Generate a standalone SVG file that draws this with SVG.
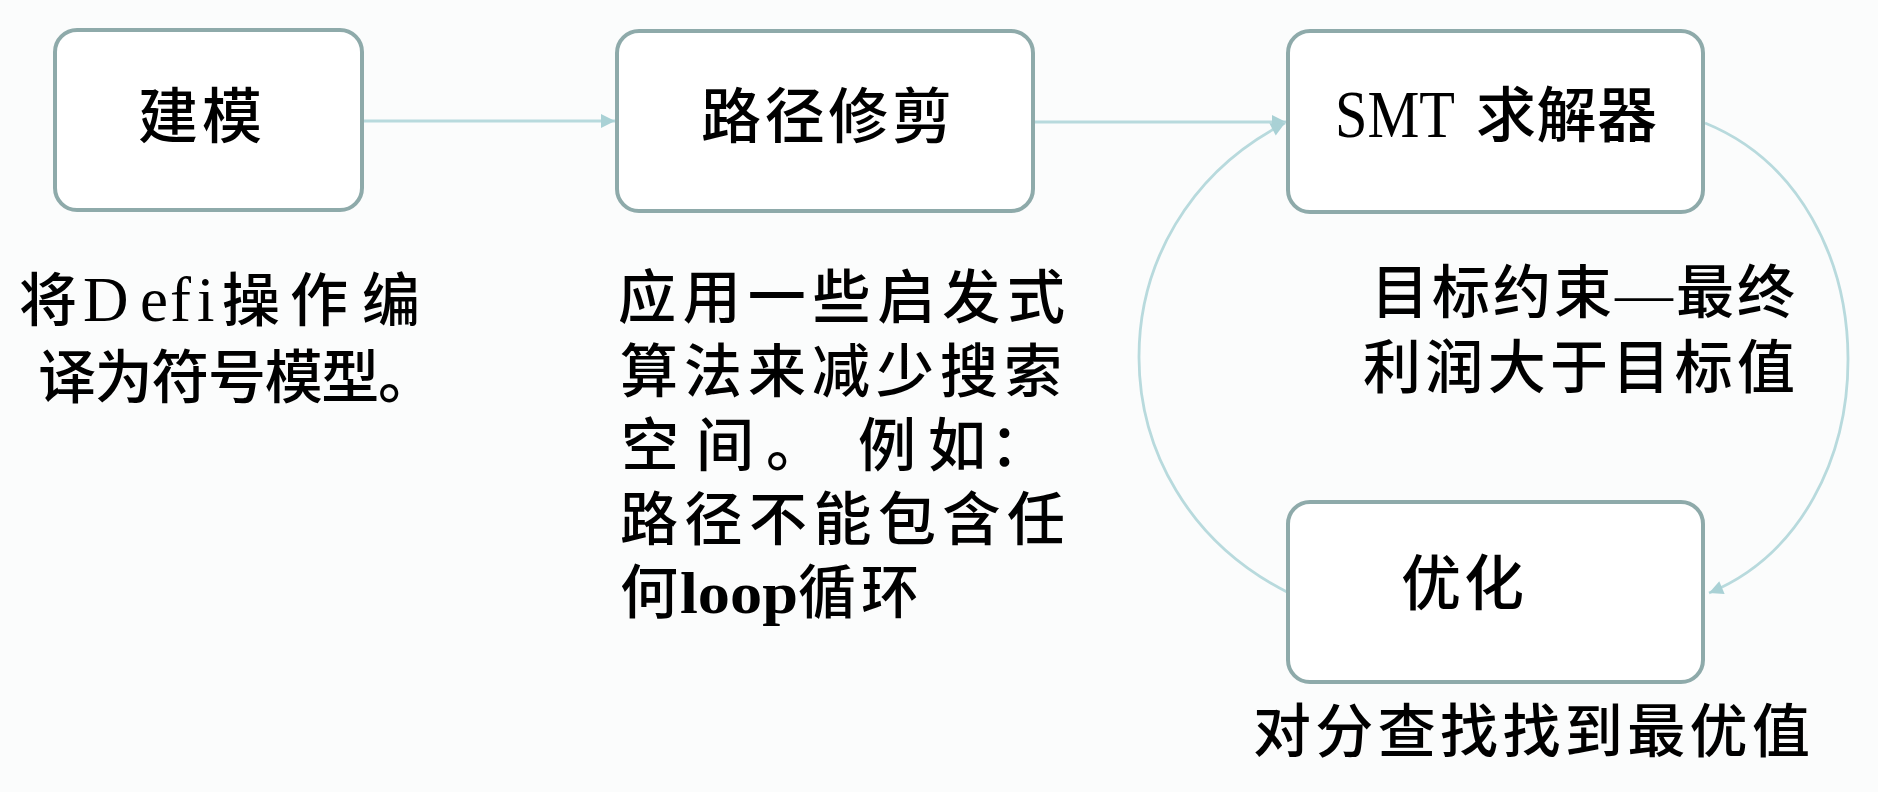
<svg xmlns="http://www.w3.org/2000/svg" width="1878" height="792" viewBox="0 0 1878 792">
  <style>
    .box { fill: #ffffff; stroke: #8eaaaa; stroke-width: 4; }
    .conn { fill: none; stroke: #b8dadd; stroke-width: 2.8; }
    .t { font-family: "Liberation Serif", "Noto Sans CJK SC", serif; fill: #000000; font-weight: 500; }
    .lbl { font-size: 58px; }
    .node { font-size: 60px; }
  </style>
  <defs>
    <marker id="arr" viewBox="0 0 10 10" refX="10" refY="5" markerUnits="userSpaceOnUse" markerWidth="16" markerHeight="14" orient="auto">
      <path d="M0,0 L10,5 L0,10 z" fill="#a9d1d5"/>
    </marker>
  </defs>
  <rect x="0" y="0" width="1878" height="792" fill="#fbfcfc"/>

  <g id="connectors">
    <path class="conn" d="M362,121 L615,121" marker-end="url(#arr)"/>
    <path class="conn" d="M1033,122 L1286,122" marker-end="url(#arr)"/>
    <path class="conn" d="M1705,123 C1895,200 1895,516 1709,593" marker-end="url(#arr)"/>
    <path class="conn" d="M1287,592 C1090,492 1090,223 1285,123" marker-end="url(#arr)"/>
  </g>

  <g id="node-modeling">
    <rect class="box" x="55" y="30" width="307" height="180" rx="22"/>
    <text class="t node" x="138" y="138" textLength="124" lengthAdjust="spacing">建模</text>
  </g>

  <g id="node-pruning">
    <rect class="box" x="617" y="31" width="416" height="180" rx="22"/>
    <text class="t node" x="701" y="138" textLength="251" lengthAdjust="spacing">路径修剪</text>
  </g>

  <g id="node-smt">
    <rect class="box" x="1288" y="31" width="415" height="181" rx="22"/>
    <text class="t node" y="137"><tspan x="1335" font-size="67" textLength="120" lengthAdjust="spacingAndGlyphs">SMT</tspan><tspan x="1476" textLength="181" lengthAdjust="spacing">求解器</tspan></text>
  </g>

  <g id="node-optimize">
    <rect class="box" x="1288" y="502" width="415" height="180" rx="22"/>
    <text class="t node" x="1401" y="605" textLength="123" lengthAdjust="spacing">优化</text>
  </g>

  <g id="label-modeling">
    <text class="t lbl" y="321"><tspan x="19">将</tspan><tspan font-size="63" x="83 140 170 197">Defi</tspan><tspan x="222">操</tspan><tspan x="290">作</tspan><tspan x="362">编</tspan></text>
    <text class="t lbl" x="38" y="398" textLength="398" lengthAdjust="spacing">译为符号模型。</text>
  </g>

  <g id="label-pruning">
    <text class="t lbl" x="618" y="318" textLength="447" lengthAdjust="spacing">应用一些启发式</text>
    <text class="t lbl" x="620" y="392" textLength="442" lengthAdjust="spacing">算法来减少搜索</text>
    <text class="t lbl" y="466"><tspan x="621">空</tspan><tspan x="696">间</tspan><tspan x="766">。</tspan><tspan x="858">例</tspan><tspan x="928">如</tspan><tspan x="990">：</tspan></text>
    <text class="t lbl" x="620" y="540" textLength="445" lengthAdjust="spacing">路径不能包含任</text>
    <text class="t lbl" y="613"><tspan x="620">何</tspan><tspan x="680" font-size="60" font-weight="bold" textLength="118" lengthAdjust="spacingAndGlyphs">loop</tspan><tspan x="798">循</tspan><tspan x="861">环</tspan></text>
  </g>

  <g id="label-smt">
    <text class="t lbl" x="1371" y="313" textLength="424" lengthAdjust="spacing">目标约束—最终</text>
    <text class="t lbl" x="1363" y="388" textLength="432" lengthAdjust="spacing">利润大于目标值</text>
  </g>

  <g id="label-optimize">
    <text class="t lbl" x="1253" y="752" textLength="557" lengthAdjust="spacing">对分查找找到最优值</text>
  </g>
</svg>
